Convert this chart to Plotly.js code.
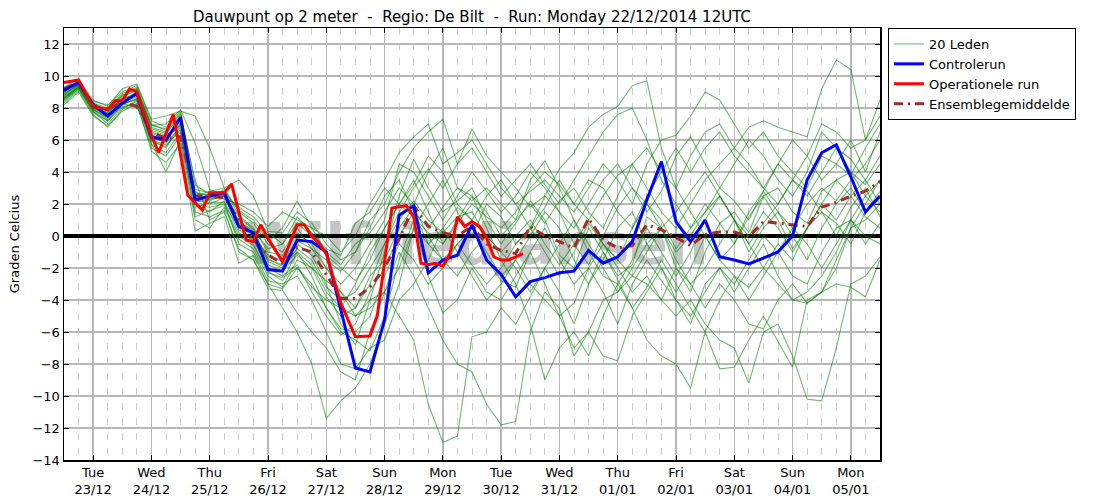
<!DOCTYPE html>
<html>
<head>
<meta charset="utf-8">
<script src="https://cdn.plot.ly/plotly-3.0.1.min.js"></script>
<style>
html, body { margin: 0; padding: 0; background: #fff; }
#myGraph { width: 1096px; height: 504px; }
</style>
</head>
<body>
<div id="myGraph"></div>
<script>
// run 22/12/2014 12UTC, ensemble every 6 hours (57 steps)
const runStart = Date.UTC(2014, 11, 22, 12);

const dayNames = ['Tue', 'Wed', 'Thu', 'Fri', 'Sat', 'Sun', 'Mon', 'Tue', 'Wed', 'Thu', 'Fri', 'Sat', 'Sun', 'Mon'];
const dayDates = ['23/12', '24/12', '25/12', '26/12', '27/12', '28/12', '29/12', '30/12', '31/12', '01/01', '02/01', '03/01', '04/01', '05/01'];
const dayTicks = ['2014-12-23', '2014-12-24', '2014-12-25', '2014-12-26', '2014-12-27', '2014-12-28', '2014-12-29',
    '2014-12-30', '2014-12-31', '2015-01-01', '2015-01-02', '2015-01-03', '2015-01-04', '2015-01-05'];

// 20 ensemble members
const lid01 = [8.8, 9.5, 8.0, 7.6, 8.6, 8.8, 6.0, 5.5, 7.0, 2.8, 2.2, 2.6, 0.9, 0.3, -1.5, -1.8, -0.5, -1.2, -3.0, -5.5, -6.8, -4.0, -1.0, 2.5, 4.8, 3.0, 1.5, 2.2, 3.0, 1.0, -0.5, 0.8, 2.2, 1.0, -1.2, -2.0, 0.5, -1.0, -2.5, -1.8, 1.2, 0.5, -2.0, -3.5, -1.0, 0.8, 1.5, 0.2, 2.5, 3.0, 1.5, 0.8, 2.8, 3.5, 4.0, 3.2, 4.5];
const lid02 = [8.5, 9.2, 7.8, 7.0, 8.0, 8.4, 5.7, 5.2, 6.5, 2.0, 1.5, 2.2, 0.2, -0.5, -2.2, -2.8, -1.0, -2.5, -4.5, -6.0, -6.5, -7.2, -5.0, -1.5, 1.0, -2.5, -4.8, -4.0, -2.0, -3.5, -4.0, -2.5, -1.0, -3.0, -5.0, -4.2, -2.0, -3.5, -5.5, -3.0, -1.5, -2.8, -4.0, -5.5, -3.0, -2.0, -3.5, -2.0, -0.5, -2.5, -4.0, -4.2, -3.5, -1.5, 0.5, 1.0, 2.0];
const lid03 = [8.6, 9.4, 8.3, 7.8, 8.8, 9.2, 6.8, 6.5, 7.5, 3.5, 1.0, 1.5, -0.8, -1.5, -3.0, -4.5, -6.0, -8.0, -11.4, -10.3, -9.5, -8.0, -5.5, -3.0, 0.5, 2.0, 3.5, 1.5, 0.0, 2.0, 1.2, -0.5, 0.5, 2.5, 1.5, -0.5, -1.8, 0.0, 1.8, 3.0, 2.0, 0.5, 1.5, 2.8, 4.0, 2.5, 1.0, -0.5, 0.8, 2.0, 3.5, 2.8, 1.5, 0.0, 1.8, 3.0, 1.2];
const lid04 = [9.0, 9.6, 8.4, 8.2, 9.0, 9.4, 7.2, 6.8, 7.8, 2.5, 2.8, 3.0, 1.5, 0.8, -0.5, -1.0, 0.5, -0.8, -2.0, -3.5, -5.0, -4.0, -3.5, -5.0, -6.5, -10.5, -12.9, -12.5, -6.3, -6.0, -4.5, -5.5, -3.8, -2.0, -3.5, -5.5, -3.0, -1.0, -2.8, -4.5, -3.2, -1.5, -3.0, -4.5, -6.0, -4.0, -2.5, -3.2, -2.0, -0.5, -1.5, 0.5, 1.5, 0.8, -0.5, 1.5, 2.5];
const lid05 = [9.2, 9.7, 8.1, 7.9, 8.5, 9.0, 6.5, 6.2, 7.2, 2.2, 2.4, 2.5, 1.0, 0.0, -1.2, -1.6, -0.3, -0.8, -1.5, -2.2, -1.0, 1.0, 2.0, 4.0, 5.5, 6.5, 7.3, 4.5, 5.5, 4.0, 2.5, 3.5, 4.5, 3.2, 2.0, 3.5, 5.0, 6.5, 7.6, 8.0, 6.0, 3.5, 2.0, 0.5, 1.5, 3.0, 2.2, 1.0, 2.8, 4.5, 3.5, 2.5, 4.0, 5.5, 4.8, 3.5, 5.0];
const lid06 = [8.3, 9.1, 7.6, 6.8, 7.9, 8.5, 5.8, 4.0, 6.0, 1.0, 0.5, 1.8, -0.2, -0.8, -2.5, -3.2, -1.5, -2.0, -2.8, -3.5, -4.5, -3.0, -0.5, 1.5, 3.0, 4.2, 3.0, 4.5, 6.7, 5.0, 4.0, 3.0, 1.8, 2.5, 4.2, 5.2, 6.8, 7.6, 8.1, 9.4, 9.7, 5.5, 3.0, 1.5, 0.0, -1.5, -0.5, 1.2, 2.5, 1.0, -0.8, 0.5, 2.0, 3.5, 2.5, 1.2, 0.5];
const lid07 = [8.9, 9.5, 8.2, 7.7, 8.7, 9.1, 6.9, 7.0, 7.9, 5.8, 2.9, 2.6, 1.2, 0.4, -0.8, -0.5, 0.8, 0.0, -1.2, -2.0, -2.8, -1.5, 0.5, 2.0, 1.2, 0.2, -0.5, 0.8, 2.0, 1.2, 0.5, 1.5, 3.0, 4.0, 3.2, 2.0, 1.0, 2.5, 3.8, 4.5, 5.5, 4.0, 3.0, 5.0, 6.5, 7.0, 5.5, 6.8, 7.2, 6.8, 6.5, 6.2, 9.2, 11.0, 10.4, 6.0, 8.5];
const lid08 = [8.7, 9.3, 7.9, 7.3, 8.2, 8.6, 6.2, 5.8, 6.8, 2.0, 1.8, 2.0, 0.5, -0.2, -2.0, -2.5, -1.8, -3.5, -5.0, -6.2, -5.5, -3.5, -2.0, 0.0, 1.5, -0.5, 0.5, 1.8, 1.0, -1.5, -2.8, -3.2, -1.0, 0.5, -1.5, -3.0, -2.0, -0.5, -2.0, -3.5, -2.5, -4.0, -5.0, -4.0, -5.5, -6.5, -7.0, -9.2, -6.0, -5.5, -7.5, -10.2, -10.3, -7.0, -3.0, -2.5, -1.3];
const lid09 = [9.1, 9.6, 8.3, 8.0, 8.9, 9.3, 7.0, 6.6, 7.6, 2.6, 2.6, 2.8, 1.6, 1.0, -0.3, 0.5, 2.2, 0.5, -1.0, -1.8, -0.5, 0.2, 1.5, 3.0, 2.0, 4.0, 5.5, 3.0, 2.2, 3.0, 2.0, 1.0, 3.5, 4.7, 3.0, 1.0, -1.0, -2.5, -3.0, -4.5, -6.5, -7.5, -8.0, -9.5, -6.0, -8.3, -8.2, -6.5, -5.0, -6.6, -8.2, -4.0, -3.5, -2.0, 0.5, 2.0, 3.5];
const lid10 = [8.4, 9.2, 7.7, 7.2, 8.1, 8.2, 5.5, 5.0, 6.3, 1.5, 1.2, 1.6, -1.0, -1.5, -3.3, -3.4, -4.8, -6.0, -7.0, -8.5, -9.0, -6.0, -3.5, -1.0, -2.5, -4.5, -6.5, -8.0, -8.5, -10.5, -11.8, -11.6, -6.0, -3.5, -4.5, -7.5, -6.0, -4.0, -3.5, -2.5, -3.0, -4.0, -2.0, -3.0, -4.5, -3.0, -4.0, -5.5, -5.8, -4.0, -3.0, -4.2, -3.5, -3.0, -3.2, -3.8, -1.5];
const lid11 = [8.9, 9.4, 8.0, 7.5, 8.4, 8.7, 6.3, 6.0, 7.1, 2.3, 2.0, 2.4, 0.7, 0.1, -1.4, -1.9, -1.0, -1.8, -3.5, -4.5, -3.0, -1.0, 0.5, 2.0, 3.5, 1.5, -0.5, 1.0, 2.5, 0.5, -1.5, -3.0, -5.5, -9.0, -7.0, -6.0, -7.5, -5.0, -3.0, -1.5, 0.5, -1.0, -2.5, -1.0, 1.0, 2.5, 1.0, -1.0, 0.5, 1.5, 0.0, -1.5, 0.5, 2.0, 3.0, 1.5, 2.8];
const lid12 = [8.6, 9.3, 8.1, 7.6, 8.3, 8.0, 6.6, 6.3, 6.9, 2.9, 2.7, 2.3, 2.0, 1.5, 0.6, 1.5, 1.0, 0.5, 0.0, -1.0, 0.0, 2.0, 3.5, 5.2, 6.2, 7.0, 4.5, 5.2, 6.0, 4.5, 3.0, 2.0, 2.8, 3.5, 2.5, 1.5, 3.0, 4.5, 3.5, 2.0, 4.5, 6.0, 6.3, 7.5, 9.0, 8.5, 7.0, 5.5, 6.5, 5.0, 4.0, 3.0, 5.0, 4.5, 3.8, 5.5, 7.0];
const lid13 = [8.8, 9.5, 7.9, 7.4, 8.5, 8.9, 6.1, 5.9, 7.3, 2.4, 2.3, 2.5, 0.4, -0.3, -1.8, -2.2, -1.2, -2.0, -3.8, -5.0, -4.5, -2.5, -1.5, 0.5, 1.8, 0.0, -1.5, -0.5, 0.5, -1.0, -2.5, -1.5, -3.0, -4.0, -5.0, -7.0, -6.0, -7.5, -7.8, -5.0, -3.5, -2.0, -4.0, -5.0, -3.5, -2.0, -3.0, -1.5, 0.0, -1.0, -2.5, -3.0, -1.0, 0.5, 1.0, -0.5, 0.8];
const lid14 = [9.0, 9.7, 8.3, 7.8, 8.4, 9.0, 6.7, 6.4, 7.5, 2.7, 2.5, 2.9, 1.3, 0.5, -1.0, -1.2, 0.2, -0.5, -2.0, -3.0, -2.0, -0.5, 1.0, 4.5, 4.0, 2.5, 1.0, 2.5, 4.0, 2.8, 1.5, 2.5, 4.0, 3.0, 1.5, 0.5, 2.0, 3.5, 4.5, 3.0, 1.5, 2.8, 5.0, 6.2, 4.5, 3.0, 4.5, 6.0, 5.0, 3.5, 2.5, 4.0, 6.5, 5.5, 4.0, 2.5, 3.5];
const lid15 = [8.5, 9.3, 7.8, 7.2, 8.2, 8.6, 5.9, 5.6, 6.7, 1.8, 2.1, 2.1, -0.5, -1.0, -2.8, -3.0, -2.5, -4.0, -6.0, -8.0, -8.3, -7.0, -6.5, -4.0, -3.0, -1.5, 0.5, -1.0, -2.5, -4.0, -3.0, -1.5, 0.0, 1.5, 0.5, -1.5, -3.0, -1.5, 0.5, 1.5, -0.5, -2.0, -3.5, -2.0, 0.0, -1.5, -2.5, -4.0, -2.5, -1.0, 0.5, -0.5, -2.0, -0.5, 1.0, 0.0, -0.5];
const lid16 = [9.3, 9.8, 8.5, 8.1, 9.2, 9.5, 7.3, 7.5, 7.8, 7.5, 5.5, 3.0, 3.5, 2.5, 0.3, 0.2, 1.5, 0.8, -0.5, -1.5, -1.0, 0.5, 2.5, 3.5, 1.5, 0.5, 1.8, 3.0, 2.5, 1.5, 0.0, 1.0, 2.0, 0.8, 2.2, 3.0, 1.5, 0.5, 2.5, 4.5, 3.0, 1.5, 0.5, 2.0, 3.5, 4.5, 5.5, 4.5, 3.0, 4.5, 6.0, 5.0, 3.5, 4.5, 6.0, 4.0, 6.5];
const lid17 = [8.7, 9.4, 8.0, 7.7, 8.6, 8.8, 6.4, 6.1, 7.0, 2.1, 2.3, 2.7, 0.8, 0.2, -1.6, -2.0, -0.8, -1.5, -3.2, -4.0, -3.5, -2.0, -0.5, 1.0, 2.2, 1.0, 0.2, 1.2, 1.5, 0.0, -1.0, 0.0, 1.0, -0.5, -1.8, -0.5, 1.0, -0.5, -1.5, 0.5, 2.0, 1.0, -0.8, 0.5, 2.0, 0.8, -0.5, 1.5, 2.8, 1.5, 0.5, 2.0, 3.0, 2.2, 3.5, 4.5, 6.0];
const lid18 = [8.2, 9.0, 7.5, 6.9, 7.8, 8.3, 5.3, 4.6, 5.8, 0.3, 0.8, 1.2, -1.7, -1.2, -3.0, -3.3, -2.0, -3.0, -4.5, -5.8, -6.0, -5.0, -2.5, -0.5, -1.5, -3.0, -2.0, -0.5, -1.8, -3.0, -2.0, -0.5, 0.5, -1.0, -2.5, -1.0, 0.8, -0.5, -1.5, -2.5, -1.0, 0.5, -1.5, -3.0, -2.0, -0.5, 1.0, -0.5, -2.0, -3.0, -4.0, -3.5, -2.5, -1.0, 1.0, 2.5, 1.5];
const lid19 = [9.0, 9.6, 8.2, 7.9, 8.8, 9.2, 6.9, 6.7, 7.7, 3.2, 2.6, 2.5, 1.8, 1.2, 0.2, -0.5, 1.2, 0.2, -0.8, -1.2, 0.8, 1.5, 3.0, 2.0, 3.2, 5.0, 4.0, 2.0, 1.0, 2.5, 3.5, 2.0, 0.5, 1.8, 3.5, 2.0, 3.5, 3.0, 1.5, 0.5, 2.5, 4.0, 5.5, 4.0, 5.5, 6.5, 5.0, 4.0, 3.0, 2.0, 3.5, 5.0, 7.0, 6.5, 5.5, 6.0, 7.5];
const lid20 = [8.6, 9.3, 7.9, 7.4, 8.3, 8.5, 6.0, 5.7, 6.6, 1.2, 1.6, 1.9, 0.0, -0.6, -2.3, -2.6, -2.0, -3.2, -4.0, -4.5, -5.0, -4.5, -3.5, -2.0, 0.5, -0.5, -1.5, -2.5, -1.0, 0.0, -1.0, -2.0, -3.5, -2.0, -0.5, 1.0, -0.5, -2.0, -3.5, -2.0, -0.5, 0.5, -1.0, 0.0, 1.5, 2.5, 1.0, 0.0, 1.5, 0.5, -1.0, 0.5, 2.0, 1.0, 2.5, 3.5, 2.0];

const controlerun = [9.1, 9.6, 8.2, 7.5, 8.3, 8.9, 6.2, 6.0, 7.4, 2.25, 2.5, 2.7, 0.6, 0.2, -2.1, -2.2, -0.25, -0.35, -1.0, -4.6, -8.25, -8.5, -5.25, 1.3, 1.9, -2.3, -1.5, -1.2, 0.7, -1.5, -2.4, -3.8, -2.85, -2.6, -2.3, -2.2, -0.9, -1.7, -1.3, -0.35, 2.25, 4.65, 0.9, -0.35, 1.0, -1.3, -1.5, -1.75, -1.4, -1.0, 0.0, 3.5, 5.2, 5.7, 3.7, 1.5, 2.5];
const gemiddelde = [9.2, 9.6, 8.1, 7.9, 8.4, 8.1, 6.5, 6.1, 6.2, 2.5, 2.45, 2.4, 1.0, -0.2, -1.2, -1.7, -0.7, -1.0, -2.4, -3.9, -3.9, -3.2, -2.0, -0.2, 1.9, 0.6, 0.2, 0.0, 0.6, -0.5, -0.9, -1.1, 0.6, 0.0, -0.35, -0.75, 1.1, -0.25, -0.75, -0.6, 0.7, 0.4, -0.1, -0.6, 0.1, 0.25, 0.25, -0.05, 0.9, 0.8, 0.7, 0.6, 1.8, 2.1, 2.5, 2.8, 3.4];

// operational run: 3-hourly, ends after 189 h (hours after run start)
const operUren = [0, 6, 12, 18, 21, 24, 27, 30, 36, 39, 45, 51, 57, 60, 66, 69, 75, 78, 81, 84, 90, 96, 99, 102, 105, 108, 114, 120, 126, 129,
    135, 141, 144, 147, 150, 153, 156, 159, 162, 165, 168, 171, 174, 177, 180, 183, 186, 189];
const operationeel = [9.6, 9.75, 8.1, 7.9, 8.45, 8.45, 9.2, 9.0, 6.3, 5.2, 7.6, 2.55, 1.6, 2.7, 2.7, 3.25, -0.25, -0.35, 0.7, -0.15, -1.6, 0.7, 0.7, 0.0, -0.45, -1.1, -4.2, -6.3, -6.25, -5.0,
    1.75, 1.9, 1.2, -1.7, -1.8, -1.7, -1.9, -1.1, 1.2, 0.6, 0.9, 0.6, -0.1, -1.3, -1.5, -1.5, -1.3, -1.1];

function tijd(h) {
    return new Date(runStart + h * 3600000).toISOString().slice(0, 16).replace('T', ' ');
}

let ensX = controlerun.map((v, i) => tijd(i * 6));
let leden = [lid01, lid02, lid03, lid04, lid05, lid06, lid07, lid08, lid09, lid10,
    lid11, lid12, lid13, lid14, lid15, lid16, lid17, lid18, lid19, lid20];

let data = leden.map((lid, k) => ({
    type: 'scatter',
    mode: 'lines',
    name: '20 Leden',
    legendgroup: 'leden',
    legendrank: 1,
    showlegend: k === 0,
    x: ensX,
    y: lid,
    line: {color: 'rgba(0,128,0,0.55)', width: 1.1},
    hoverinfo: 'skip'
}));

data.push({
    type: 'scatter', mode: 'lines',
    name: 'Ensemblegemiddelde',
    legendrank: 4,
    x: ensX,
    y: gemiddelde,
    line: {color: '#a52a2a', width: 3, dash: '9px,5px,2px,5px'}
});

data.push({
    type: 'scatter', mode: 'lines',
    name: 'Controlerun',
    legendrank: 2,
    x: ensX,
    y: controlerun,
    line: {color: '#0000ff', width: 3}
});

data.push({
    type: 'scatter', mode: 'lines',
    name: 'Operationele run',
    legendrank: 3,
    x: operUren.map(tijd),
    y: operationeel,
    line: {color: '#ff0000', width: 3}
});

let layout = {
    width: 1096,
    height: 504,
    margin: {l: 64, r: 216, t: 28, b: 44},
    paper_bgcolor: '#fff',
    plot_bgcolor: '#fff',
    font: {family: 'DejaVu Sans', size: 13, color: '#000'},
    title: {
        text: 'Dauwpunt op 2 meter  -  Regio: De Bilt  -  Run: Monday 22/12/2014 12UTC',
        font: {size: 15},
        xref: 'paper', x: 0.5,
        yref: 'container', y: 0.966, yanchor: 'middle'
    },
    xaxis: {
        type: 'date',
        range: [tijd(0), tijd(336)],
        tickmode: 'array',
        tickvals: dayTicks,
        ticktext: dayNames.map((d, i) => d + '<br>' + dayDates[i]),
        ticks: 'inside', ticklen: 5, tickcolor: '#000',
        showline: true, linecolor: '#000', linewidth: 1.5, mirror: 'ticks',
        showgrid: true, gridcolor: '#b8b8b8', gridwidth: 1.5,
        minor: {
            tickmode: 'linear',
            tick0: tijd(0),
            dtick: 6 * 3600000,
            showgrid: true,
            gridcolor: '#cccccc',
            gridwidth: 1,
            griddash: '7px,8px',
            ticks: ''
        },
        zeroline: false
    },
    yaxis: {
        range: [-14, 13],
        tickmode: 'linear', tick0: 0, dtick: 2,
        ticks: 'inside', ticklen: 5, tickcolor: '#000',
        showline: true, linecolor: '#000', linewidth: 1.5, mirror: 'ticks',
        showgrid: true, gridcolor: '#b8b8b8', gridwidth: 1.5,
        zeroline: true, zerolinecolor: '#000', zerolinewidth: 3.5,
        title: {text: 'Graden Celcius', font: {size: 13}, standoff: 10}
    },
    legend: {
        x: 1.0098, xanchor: 'left',
        y: 1, yanchor: 'top',
        bordercolor: '#000', borderwidth: 1,
        bgcolor: '#fff',
        font: {size: 13},
        tracegroupgap: 0
    },
    annotations: [{
        text: '<b>Wilfriedjansen</b>',
        xref: 'paper', yref: 'paper',
        x: 0.505, y: 0.5,
        xanchor: 'center', yanchor: 'middle',
        showarrow: false,
        font: {family: 'DejaVu Sans', size: 57, color: 'rgba(150,150,150,0.55)'}
    }],
    showlegend: true
};

Plotly.newPlot('myGraph', data, layout, {staticPlot: true}).then(gd => {
    // watermark behind the lines, like in the original picture
    let wm = gd.querySelector('.annotation');
    let below = gd.querySelector('.main-svg .layer-below');
    if (wm && below) below.appendChild(wm);
});
</script>
</body>
</html>
